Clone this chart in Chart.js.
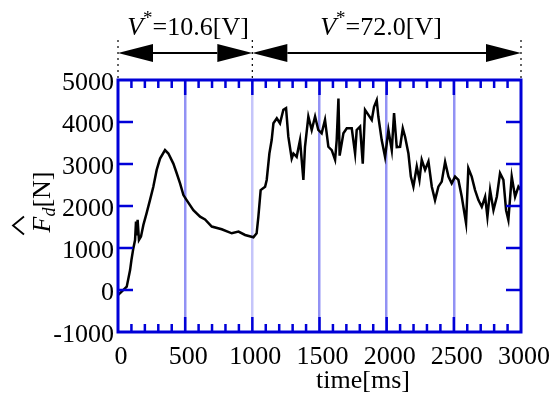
<!DOCTYPE html>
<html>
<head>
<meta charset="utf-8">
<script src="https://cdn.jsdelivr.net/npm/chart.js@4.4.1/dist/chart.umd.min.js"></script>
<style>
  html, body { margin: 0; padding: 0; background: #fff; }
</style>
</head>
<body>
<canvas id="forceChart" width="553" height="394"></canvas>
<script>
// time [ms] and estimated force F_d [N]
const times = [0, 27, 65, 90, 100, 114, 127, 134, 140, 146,
  156, 171, 189, 213, 238, 263, 288, 313, 350, 375,
  412, 437, 462, 487, 511, 561, 611, 648, 698, 772,
  847, 897, 946, 1008, 1032, 1045, 1062, 1095, 1107, 1127,
  1144, 1157, 1182, 1206, 1231, 1251, 1268, 1293, 1306, 1330,
  1355, 1380, 1392, 1417, 1442, 1467, 1491, 1516, 1541, 1566,
  1591, 1616, 1628, 1641, 1650, 1678, 1703, 1740, 1765, 1777,
  1802, 1822, 1839, 1864, 1889, 1906, 1926, 1938, 1963, 1988,
  2013, 2038, 2055, 2075, 2100, 2120, 2137, 2162, 2180, 2199,
  2224, 2244, 2261, 2286, 2311, 2336, 2360, 2385, 2410, 2435,
  2460, 2484, 2509, 2534, 2559, 2591, 2608, 2633, 2658, 2683,
  2708, 2733, 2750, 2770, 2795, 2820, 2844, 2869, 2889, 2906,
  2931, 2956, 2981, 3000];
const forceN = [-120, -40, 80, 475, 715, 990, 1190, 1630, 1300, 1670,
  1190, 1270, 1550, 1830, 2140, 2460, 2860, 3130, 3330, 3250,
  3010, 2780, 2540, 2260, 2140, 1900, 1745, 1680, 1510, 1445,
  1350, 1390, 1310, 1255, 1350, 1745, 2380, 2460, 2620, 3250,
  3570, 3970, 4090, 3970, 4290, 4330, 3650, 3130, 3250, 3170,
  3570, 2620, 3410, 4130, 3810, 4130, 3810, 3730, 4050, 3410,
  3330, 3100, 3570, 4560, 3200, 3730, 3850, 3850, 3250, 3810,
  3890, 3010, 4290, 4170, 4050, 4360, 4520, 4130, 3570, 3170,
  3810, 3330, 4210, 3400, 3410, 3850, 3650, 3250, 2700, 2460,
  2940, 2620, 3100, 2860, 3060, 2460, 2140, 2460, 2580, 3050,
  2700, 2540, 2700, 2620, 2220, 1590, 2900, 2700, 2380, 2140,
  1980, 2220, 1745, 2380, 1900, 2220, 2780, 2620, 1900, 1670,
  2700, 2220, 2460, 2380];

// voltage phases shown above the plot
const phaseStart = [0, 1000];
const phaseEnd = [1000, 3000];
const phaseVolt = ['10.6', '72.0'];

const serif = '"Liberation Serif", "Times New Roman", serif';
const frameBlue = '#0000d8';
const gridBlue = 'rgba(110, 110, 240, 0.75)';

function runs(ctx, parts, x, y) {
  // draws a list of [text, font, dy] pieces one after another
  let cx = x;
  parts.forEach(([txt, font, dy]) => {
    ctx.font = font;
    ctx.fillText(txt, cx, y + dy);
    cx += ctx.measureText(txt).width;
  });
  return cx - x;
}
function runsWidth(ctx, parts) {
  let w = 0;
  parts.forEach(([txt, font]) => { ctx.font = font; w += ctx.measureText(txt).width; });
  return w;
}

const decor = {
  id: 'decor',
  afterDatasetsDraw(chart) {
    const { ctx, chartArea: a, scales: { x, y } } = chart;
    ctx.save();

    // inward ticks
    ctx.strokeStyle = frameBlue;
    ctx.lineWidth = 2.5;
    ctx.beginPath();
    for (let t = 100; t < 3000; t += 100) {
      const px = x.getPixelForValue(t);
      const len = t % 500 === 0 ? 15 : 8;
      ctx.moveTo(px, a.top); ctx.lineTo(px, a.top + len);
      ctx.moveTo(px, a.bottom); ctx.lineTo(px, a.bottom - len);
    }
    for (let v = 0; v <= 4000; v += 1000) {
      const py = y.getPixelForValue(v);
      ctx.moveTo(a.left, py); ctx.lineTo(a.left + 15, py);
      ctx.moveTo(a.right, py); ctx.lineTo(a.right - 15, py);
    }
    ctx.stroke();

    // frame
    ctx.lineWidth = 3;
    ctx.strokeRect(a.left, a.top, a.right - a.left, a.bottom - a.top);

    // dotted guides above the frame
    ctx.strokeStyle = '#000';
    ctx.lineWidth = 1.2;
    ctx.setLineDash([2, 4]);
    ctx.beginPath();
    [0, 1000, 3000].forEach(t => {
      const px = x.getPixelForValue(t);
      ctx.moveTo(px, 40); ctx.lineTo(px, a.top);
    });
    ctx.stroke();
    ctx.setLineDash([]);

    // double arrows and labels
    const ay = 53, head = 35, half = 9;
    ctx.fillStyle = '#000';
    ctx.textBaseline = 'alphabetic';
    ctx.textAlign = 'left';
    const labelCenters = [188, 381];
    phaseStart.forEach((t0, i) => {
      const x1 = x.getPixelForValue(t0), x2 = x.getPixelForValue(phaseEnd[i]);
      ctx.lineWidth = 2;
      ctx.beginPath();
      ctx.moveTo(x1 + head, ay); ctx.lineTo(x2 - head, ay);
      ctx.stroke();
      ctx.beginPath();
      ctx.moveTo(x1, ay); ctx.lineTo(x1 + head, ay - half); ctx.lineTo(x1 + head, ay + half); ctx.closePath();
      ctx.moveTo(x2, ay); ctx.lineTo(x2 - head, ay - half); ctx.lineTo(x2 - head, ay + half); ctx.closePath();
      ctx.fill();

      const parts = [['V', 'italic 26px ' + serif, 0], ['*', '19px ' + serif, -11],
        ['=' + phaseVolt[i] + '[V]', '26px ' + serif, 0]];
      const w = runsWidth(ctx, parts);
      runs(ctx, parts, labelCenters[i] - w / 2, 35);
    });

    // y axis title: F-hat with subscript d, [N]
    ctx.save();
    ctx.translate(50, 202);
    ctx.rotate(-Math.PI / 2);
    const yParts = [['F', 'italic 26px ' + serif, 0], ['d', 'italic 18px ' + serif, 5],
      ['[N]', '26px ' + serif, 0]];
    const yw = runsWidth(ctx, yParts);
    const sx = -yw / 2;
    runs(ctx, yParts, sx, 0);
    ctx.lineWidth = 1.8;
    ctx.beginPath();
    ctx.moveTo(sx - 2, -26); ctx.lineTo(sx + 7, -37); ctx.lineTo(sx + 16, -26);
    ctx.stroke();
    ctx.restore();

    // x axis title
    ctx.font = '26px ' + serif;
    ctx.textAlign = 'center';
    ctx.fillText('time[ms]', 363, 388);

    ctx.restore();
  }
};

new Chart(document.getElementById('forceChart'), {
  type: 'line',
  data: {
    labels: times,
    datasets: [{
      label: 'F_d',
      data: times.map((t, i) => ({ x: t, y: forceN[i] })),
      borderColor: '#000',
      borderWidth: 2.5,
      pointRadius: 0,
      tension: 0,
      fill: false
    }]
  },
  options: {
    responsive: false,
    animation: false,
    layout: { padding: { top: 80, right: 32, left: 0, bottom: 0 } },
    plugins: {
      legend: { display: false },
      tooltip: { enabled: false }
    },
    scales: {
      x: {
        type: 'linear',
        min: 0,
        max: 3000,
        afterFit: (scale) => {
          scale.height = 62;
          scale.paddingLeft = 0;
          scale.paddingRight = 0;
        },
        border: { display: false },
        grid: {
          drawTicks: false,
          lineWidth: 2.5,
          color: (c) => {
            const v = c.tick && c.tick.value;
            if (v === 1000) return 'rgba(150, 150, 245, 0.55)';
            return v > 0 && v < 3000 ? gridBlue : 'rgba(0,0,0,0)';
          }
        },
        ticks: {
          stepSize: 500,
          autoSkip: false,
          maxRotation: 0,
          padding: 10,
          labelOffset: 3,
          color: '#000',
          font: { family: serif, size: 26 },
          callback: (v) => String(v)
        }
      },
      y: {
        min: -1000,
        max: 5000,
        afterFit: (scale) => {
          scale.width = 118;
          scale.paddingTop = 0;
          scale.paddingBottom = 0;
        },
        border: { display: false },
        grid: { display: false, drawTicks: false },
        ticks: {
          stepSize: 1000,
          autoSkip: false,
          padding: 4,
          labelOffset: 3,
          color: '#000',
          font: { family: serif, size: 26 },
          callback: (v) => String(v)
        }
      }
    }
  },
  plugins: [decor]
});
</script>
</body>
</html>
